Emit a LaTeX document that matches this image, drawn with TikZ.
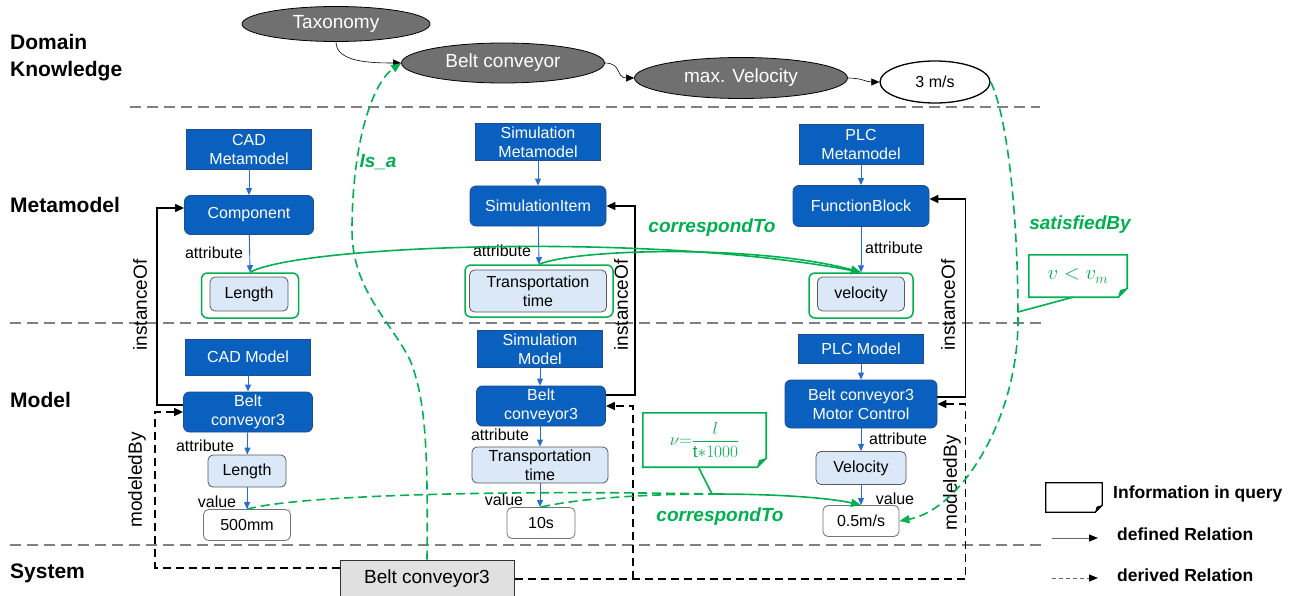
\documentclass[tikz,border=0pt]{standalone}
\usepackage{fontspec}
\setmainfont{Liberation Sans}
\usetikzlibrary{arrows.meta,shapes.geometric,calc}
\definecolor{boxblue}{RGB}{10,96,190}
\definecolor{boxedge}{RGB}{35,75,140}
\definecolor{attrfill}{RGB}{218,232,247}
\definecolor{qgreen}{RGB}{0,176,80}
\definecolor{ellgray}{RGB}{112,112,112}
\definecolor{sepgray}{RGB}{128,128,128}
\definecolor{arrblue}{RGB}{40,110,205}
\newcommand\fsz[2]{\fontsize{#1}{#2}\selectfont}
\newcommand\drawnote[3]{%
  \draw[#2] (#1.north west) -- (#1.north east) -- ([yshift=#3]#1.south east) -- ([xshift=-#3]#1.south east) -- (#1.south west) -- cycle;
  \fill[#2] ([yshift=#3]#1.south east) -- ([xshift=-#3]#1.south east) -- ([xshift=-0.8*#3,yshift=0.8*#3]#1.south east) -- cycle;}
\tikzset{
  meta/.style={draw=boxedge, fill=boxblue, text=white, font=\fsz{16}{19}, align=center, inner sep=0pt, line width=0.8pt},
  hdr/.style={meta},
  cls/.style={meta, rounded corners=6pt},
  attr/.style={draw=black!65, fill=attrfill, rounded corners=5pt, font=\fsz{16}{19}, align=center, inner sep=0pt, line width=0.8pt},
  val/.style={draw=black!55, fill=white, rounded corners=5pt, font=\fsz{16}{19}, align=center, inner sep=0pt, line width=0.8pt},
  qbox/.style={draw=qgreen, line width=1.5pt, rounded corners=6pt, inner sep=0pt},
  ell/.style={ellipse, draw=black, fill=ellgray, text=white, font=\fsz{19}{22}, inner sep=0pt, line width=0.8pt},
  lbl/.style={font=\fsz{16}{19}, inner sep=0pt},
  rlbl/.style={font=\fsz{19}{22}, inner sep=0pt, rotate=90},
  layer/.style={font=\bfseries\fsz{21}{27}, align=left, anchor=west, inner sep=0pt},
  rel/.style={font=\bfseries\itshape\fsz{19}{22}, text=qgreen, inner sep=0pt},
  leg/.style={font=\bfseries\fsz{17.5}{20}, anchor=west, inner sep=0pt},
  thinarr/.style={-{Triangle[length=8pt,width=7pt]}, line width=0.6pt, black},
  barr/.style={-{Triangle[length=7pt,width=6pt]}, arrblue, line width=0.9pt},
  inst/.style={-{Triangle[length=9pt,width=8pt]}, line width=1.5pt, black},
  modl/.style={inst, dash pattern=on 8pt off 5pt},
  sep/.style={sepgray, line width=1.3pt, dash pattern=on 11pt off 6pt},
  gsolid/.style={qgreen, line width=1.6pt, -{Triangle[length=10pt,width=8pt]}},
  gdash/.style={gsolid, dash pattern=on 9pt off 5pt},
  gline/.style={qgreen, line width=1.6pt},
  gnote/.style={qgreen, line width=1.6pt},
  notenode/.style={inner sep=0pt, text=qgreen}
}
\begin{document}
\begin{tikzpicture}[x=1pt,y=-1pt]
\useasboundingbox[fill=white] (0,0) rectangle (1295,596);

% layer labels
\node[layer] (lk) at (10,58) {Domain\\Knowledge};
\node[layer] (lm) at (10,205) {Metamodel};
\node[layer] (lmo) at (10,400) {Model};
\node[layer] (ls) at (10,573) {System};

% separators
\draw[sep] (130,107) -- (1040,107);
\draw[sep] (10,323) -- (1045,323);
\draw[sep] (10,545) -- (1045,545);

% domain knowledge
\node[ell, minimum width=188, minimum height=35] (tax) at (336,24) {Taxonomy};
\node[ell, minimum width=203, minimum height=40] (belt) at (503,63) {Belt conveyor};
\node[ell, minimum width=213, minimum height=41] (maxv) at (741,78) {max. Velocity};
\node[ell, fill=white, text=black, line width=1.3pt, font=\fsz{16}{19}, minimum width=110, minimum height=42] (ms) at (935,82) {3 m/s};
\draw[thinarr] (tax.south) .. controls (336,62) and (370,63) .. (belt.west);
\draw[thinarr] (belt.east) .. controls (622,63) and (616,78) .. (maxv.west);
\draw[thinarr] (maxv.east) .. controls (862,78) and (866,82) .. (ms.west);

% metamodel layer
\node[hdr, minimum width=125, minimum height=40] (cadmm) at (249,149) {CAD\\Metamodel};
\node[cls, minimum width=129, minimum height=39] (comp) at (249,215) {Component};
\node[attr, minimum width=78, minimum height=34] (len1) at (249,294) {Length};
\node[qbox, minimum width=97, minimum height=45] (qlen) at (250,295.5) {};
\node[hdr, minimum width=125, minimum height=37] (simmm) at (538,142) {Simulation\\Metamodel};
\node[cls, minimum width=136, minimum height=40] (simit) at (538,206) {SimulationItem};
\node[attr, minimum width=137, minimum height=42] (tt1) at (538,291) {Transportation\\time};
\node[qbox, minimum width=148, minimum height=52] (qtt) at (539,291) {};
\node[hdr, minimum width=124, minimum height=40] (plcmm) at (861,144) {PLC\\Metamodel};
\node[cls, minimum width=136, minimum height=41] (fb) at (861,206) {FunctionBlock};
\node[attr, minimum width=87, minimum height=34] (vel1) at (861,294) {velocity};
\node[qbox, minimum width=104, minimum height=45] (qvel) at (861,295.5) {};

\draw[barr] (cadmm) -- (comp);
\draw[barr] (comp) -- (qlen.north);
\draw[barr] (simmm) -- (simit);
\draw[barr] (simit) -- (qtt.north);
\draw[barr] (plcmm) -- (fb);
\draw[barr] (fb) -- (qvel.north);
\node[lbl] (a1) at (214,253) {attribute};
\node[lbl] (a2) at (502,251) {attribute};
\node[lbl] (a3) at (894,248) {attribute};

% model layer
\node[hdr, minimum width=125, minimum height=36] (cadm) at (248,357) {CAD Model};
\node[cls, minimum width=129, minimum height=40] (bc1) at (248,412) {Belt\\conveyor3};
\node[attr, minimum width=78, minimum height=32] (len2) at (247,471) {Length};
\node[val, minimum width=87, minimum height=31] (v1) at (247,525) {500mm};
\node[hdr, minimum width=125, minimum height=37] (simm) at (540,349) {Simulation\\Model};
\node[cls, minimum width=129, minimum height=40] (bc2) at (541,406) {Belt\\conveyor3};
\node[attr, minimum width=136, minimum height=36] (tt2) at (540,465) {Transportation\\time};
\node[val, minimum width=68, minimum height=31] (v2) at (541,523) {10s};
\node[hdr, minimum width=125, minimum height=29] (plcm) at (861,349) {PLC Model};
\node[cls, minimum width=152, minimum height=48] (bc3) at (861,404) {Belt conveyor3\\Motor Control};
\node[attr, minimum width=90, minimum height=33] (vel2) at (861,468) {Velocity};
\node[val, minimum width=76, minimum height=31] (v3) at (861,521) {0.5m/s};

\draw[barr] (cadm) -- (cadm |- bc1.north);
\draw[barr] (bc1) -- (len2);
\draw[barr] (len2) -- (v1);
\draw[barr] (simm) -- (simm |- bc2.north);
\draw[barr] (bc2.south -| tt2.north) -- (tt2.north);
\draw[barr] (tt2) -- (tt2 |- v2.north);
\draw[barr] (plcm) -- (bc3);
\draw[barr] (bc3) -- (vel2);
\draw[barr] (vel2) -- (v3);
\node[lbl] (a4) at (205,446) {attribute};
\node[lbl] (vl1) at (217,502) {value};
\node[lbl] (a5) at (500,435) {attribute};
\node[lbl] (vl2) at (504,500) {value};
\node[lbl] (a6) at (898,439) {attribute};
\node[lbl] (vl3) at (895,499) {value};

% instanceOf
\draw[inst] ([yshift=7pt]bc1.west) -- ++(-26,0) |- ([yshift=7pt]comp.west);
\draw[inst] ([yshift=11pt]bc2.east) -- ++(29,0) |- (simit.east);
\draw[inst] ([yshift=7pt]bc3.east) -- ++(28,0) |- ([yshift=7pt]fb.east);
\node[rlbl] (i1) at (140,305) {instanceOf};
\node[rlbl] (i2) at (621,305) {instanceOf};
\node[rlbl] (i3) at (948,305) {instanceOf};

% system
\node[draw=black!80, fill=black!12, line width=1pt, minimum width=174, minimum height=38, inner sep=0pt, font=\fsz{19}{22}] (sys) at (427,579) {Belt conveyor3};

% modeledBy
\coordinate (sb) at ([xshift=27pt]bc2.east);
\draw[modl] ([yshift=11pt]sys.west) -| ([xshift=-28pt]bc1.west) -- (bc1.west);
\draw[modl] (sys.east) -| ([xshift=28pt]bc3.east) -- (bc3.east);
\draw[modl] (sb |- sys.east) -- (sb) -- (bc2.east);
\node[rlbl] (m1) at (137,480) {modeledBy};
\node[rlbl] (m2) at (952,483) {modeledBy};

% Is_a
\draw[gdash] (sys.north) .. controls (428,450) and (426,400) .. (410,360)
  .. controls (390,320) and (352,290) .. (352,230)
  .. controls (352,150) and (370,85) .. (belt.west);
\node[rel] (isa) at (378,162) {Is\_a};

% satisfiedBy
\coordinate (sj) at (1018,320);
\draw[gdash] (ms.east) .. controls (1005,110) and (1018,200) .. (sj)
  .. controls (1018,420) and (960,510) .. (v3.east);
\node[rel] (sat) at (1080,225) {satisfiedBy};
\node[notenode, minimum width=98, minimum height=42, font=\fsz{22}{26}] (n1) at (1078,276) {$v<v_m$};
\drawnote{n1}{gnote}{9pt}
\coordinate (sp) at (1018,312);
\draw[gline] ([xshift=-5pt]n1.south) -- (sp);

% correspondTo (metamodel)
\draw[gsolid] (qlen.north) .. controls (300,245) and (650,232) .. (qvel.north);
\draw[gsolid] (qtt.north) .. controls (580,248) and (760,245) .. (qvel.north);
\node[rel] (c1) at (712,228) {correspondTo};

% correspondTo (model)
\coordinate (J) at (712,494);
\draw[gdash, -] (v1.north) .. controls (300,495) and (500,490) .. (J);
\draw[gdash, -] (v2.north) .. controls (580,498) and (650,494) .. (J);
\draw[gsolid] (J) .. controls (780,494) and (830,498) .. (v3.north);
\node[rel] (c2) at (720,517) {correspondTo};
\node[notenode, minimum width=123, minimum height=54, font=\fsz{17}{20}] (n2) at (704.5,440) {$\displaystyle\nu{=}\frac{l}{\mathrm{t}{*}1000}$};
\drawnote{n2}{gnote}{9pt}
\draw[gline] ([xshift=-6pt]n2.south) -- (J);

% legend
\node[inner sep=0pt, minimum width=56, minimum height=29] (ln) at (1074,497.5) {};
\drawnote{ln}{line width=1.3pt, black}{7pt}
\node[leg] (lt1) at (1113,494) {Information in query};
\coordinate (la1) at (1052,538);
\coordinate (la2) at (1098,538);
\draw[black!60, line width=1pt, -{Triangle[black,length=9pt,width=7pt]}] (la1) -- (la2);
\node[leg] (lt2) at (1117,534) {defined Relation};
\coordinate (lb1) at (1052,578);
\coordinate (lb2) at (1098,578);
\draw[black!60, line width=1pt, dash pattern=on 4pt off 3pt, -{Triangle[black,length=9pt,width=7pt]}] (lb1) -- (lb2);
\node[leg] (lt3) at (1117,575) {derived Relation};
\end{tikzpicture}
\end{document}
